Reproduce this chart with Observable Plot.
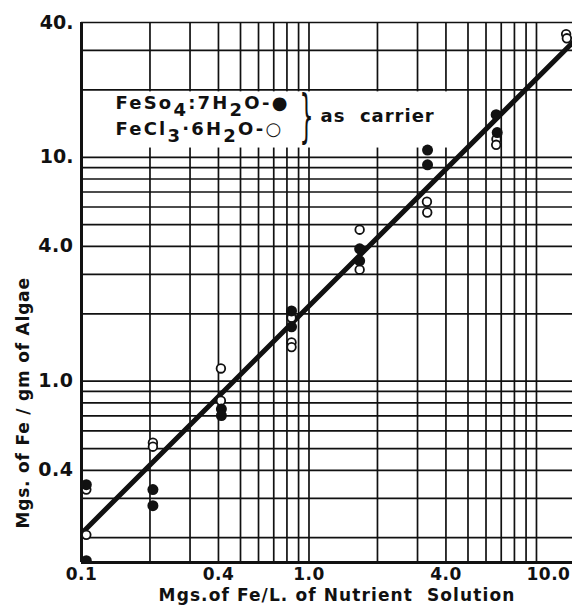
<!DOCTYPE html>
<html><head><meta charset="utf-8">
<script src="https://cdn.jsdelivr.net/npm/d3@7"></script>
<script src="https://cdn.jsdelivr.net/npm/@observablehq/plot@0.6"></script>
<style>
body{margin:0;background:#fff}
svg{display:block}
</style>
</head><body><div id="chart"></div>
<script>
// ---- data ----
const xDomain = [0.1, 14.4];
const yDomain = [0.155, 40];
const xGrid = [0.2,0.3,0.4,0.5,0.6,0.7,0.8,0.9,1,2,3,4,5,6,7,8,9,10];
const yGrid = [0.2,0.3,0.4,0.5,0.6,0.7,0.8,0.9,1,2,3,4,5,6,7,8,9,10,20,30,40];
const xTickValues = [0.1, 0.4, 1, 4];
const xTickLabels = ["0.1", "0.4", "1.0", "4.0"];
const xTick10Value = [10];
const xTick10Label = ["10.0"];
const yTickValues = [40, 10, 4, 1, 0.4];
const yTickLabels = ["40.", "10.", "4.0", "1.0", "0.4"];

// FeSO4·7H2O (filled)
const sulfateX = [0.105,0.105,0.206,0.206,0.412,0.412,0.838,0.838,1.67,1.67,3.32,3.32,6.65,6.72];
const sulfateY = [0.345,0.158,0.328,0.278,0.751,0.702,2.06,1.75,3.90,3.45,10.77,9.26,15.5,12.9];
// FeCl3·6H2O (open)
const chlorideX = [0.105,0.105,0.206,0.206,0.41,0.41,0.838,0.838,0.838,1.67,1.67,3.30,3.31,6.67,6.65,13.5,13.6];
const chlorideY = [0.328,0.206,0.531,0.51,1.14,0.818,1.92,1.49,1.42,4.75,3.15,6.33,5.67,12.06,11.37,35.5,34.0];
// fitted line
const fitX = [0.1, 14.4];
const fitY = [0.209, 32.5];
// white pasted legend area
const legendArea = [{x1: 0.1, x2: 4.6, y1: 11, y2: 19.6}];

const legend1 = "FeSo4:7H2O-●";
const legend2 = "FeCl3·6H2O-○";
const carrierText = "as carrier";
const xTitle = "Mgs.of Fe/L. of Nutrient Solution";
const yTitle = "Mgs. of Fe / gm of Algae";

const sulfate = sulfateX.map((x, i) => ({x, y: sulfateY[i]}));
const chloride = chlorideX.map((x, i) => ({x, y: chlorideY[i]}));
const fit = fitX.map((x, i) => ({x, y: fitY[i]}));

const font = "DejaVu Sans";
const plot = Plot.plot({
  width: 572, height: 609,
  marginLeft: 81, marginRight: 0, marginTop: 22, marginBottom: 47,
  x: {type: "log", domain: xDomain, axis: null},
  y: {type: "log", domain: yDomain, axis: null},
  style: {fontFamily: font, background: "white", overflow: "visible", color: "#111"},
  marks: [
    Plot.ruleX(xGrid, {stroke: "#111", strokeWidth: 1.7}),
    Plot.ruleY(yGrid, {stroke: "#111", strokeWidth: 1.7}),
    Plot.rect(legendArea, {x1: "x1", x2: "x2", y1: "y1", y2: "y2", fill: "white"}),
    Plot.ruleX([xDomain[0]], {stroke: "#111", strokeWidth: 3}),
    Plot.ruleY([yDomain[0]], {stroke: "#111", strokeWidth: 3}),
    Plot.line(fit, {x: "x", y: "y", stroke: "#111", strokeWidth: 5, strokeLinecap: "round", clip: true}),
    Plot.dot(chloride, {x: "x", y: "y", r: 4.3, fill: "white", stroke: "#111", strokeWidth: 1.8}),
    Plot.dot(sulfate, {x: "x", y: "y", r: 5.5, fill: "#111", clip: true}),
    // tick labels
    Plot.text(xTickValues, {x: d => d, text: (d, i) => xTickLabels[i], frameAnchor: "bottom", lineAnchor: "top", dy: 5, fontSize: 17, fontWeight: "bold", fill: "#111"}),
    Plot.text(xTick10Value, {x: d => d, text: (d, i) => xTick10Label[i], frameAnchor: "bottom", lineAnchor: "top", dy: 5, dx: 12, fontSize: 17, fontWeight: "bold", fill: "#111"}),
    Plot.text(yTickValues, {y: d => d, text: (d, i) => yTickLabels[i], frameAnchor: "left", textAnchor: "end", lineAnchor: "middle", dx: -8, fontSize: 19, fontWeight: "bold", fill: "#111"}),
    // axis titles
    Plot.text([xTitle], {frameAnchor: "bottom", lineAnchor: "bottom", dy: 38, dx: 10, fontSize: 17, fontWeight: "bold", fill: "#111"}),
    Plot.text([yTitle], {frameAnchor: "bottom-left", textAnchor: "start", lineAnchor: "bottom", rotate: -90, dx: -53, dy: -34, fontSize: 17, fontWeight: "bold", fill: "#111"}),
    // legend
    Plot.text([legend1], {frameAnchor: "top-left", textAnchor: "start", lineAnchor: "bottom", dx: 34, dy: 86, fontSize: 18, fontWeight: "bold", fill: "#111"}),
    Plot.text([legend2], {frameAnchor: "top-left", textAnchor: "start", lineAnchor: "bottom", dx: 34, dy: 112, fontSize: 18, fontWeight: "bold", fill: "#111"}),
    Plot.text(["}"], {frameAnchor: "top-left", textAnchor: "middle", lineAnchor: "middle", dx: 225, dy: 93, fontSize: 22, fontWeight: "normal", fill: "#111"}),
    Plot.text([carrierText], {frameAnchor: "top-left", textAnchor: "start", lineAnchor: "bottom", dx: 239, dy: 99, fontSize: 18, fontWeight: "bold", fill: "#111"})
  ]
});
document.getElementById("chart").append(plot);

const svg = d3.select(plot);
const texts = svg.selectAll("text").nodes();
const byContent = s => texts.filter(t => t.textContent === s);

// letter spacing
const spacing = [[xTitle, "1.1px"], [yTitle, "0.8px"], [carrierText, "1.0px"], [legend1, "2.2px"], [legend2, "2.2px"]];
for (const [s, ls] of spacing) byContent(s).forEach(t => { t.style.letterSpacing = ls; t.style.whiteSpace = "pre"; });
for (const s of [...xTickLabels, ...xTick10Label]) byContent(s).forEach(t => t.style.letterSpacing = "0.5px");
// wider word gaps as in the original lettering
byContent(xTitle).forEach(t => { t.textContent = xTitle.replace("Nutrient ", "Nutrient\u00a0 "); });
byContent(carrierText).forEach(t => { t.textContent = carrierText.replace(" ", "\u00a0 "); });

// subscripts in the legend
for (const s of [legend1, legend2]) {
  byContent(s).forEach(node => {
    const el = d3.select(node);
    el.text(null);
    let prev = "", down = false;
    for (const p of s.split(/(\d)/).filter(d => d !== "")) {
      const isSub = /^\d$/.test(p) && /[a-zA-Z]$/.test(prev);
      const t = el.append("tspan").text(p);
      if (isSub && !down) { t.attr("dy", "0.4em"); down = true; }
      else if (!isSub && down) { t.attr("dy", "-0.4em"); down = false; }
      prev = p;
    }
  });
}
// stretch the brace vertically
byContent("}").forEach(node => {
  const g = document.createElementNS("http://www.w3.org/2000/svg", "g");
  node.parentNode.insertBefore(g, node);
  g.appendChild(node);
  const b = g.getBBox();
  const cx = b.x + b.width / 2, cy = b.y + b.height / 2;
  const k = 2.6;
  g.setAttribute("transform", `translate(${cx},${cy}) scale(1,${k}) translate(${-cx},${-cy})`);
});
</script>
</body></html>
